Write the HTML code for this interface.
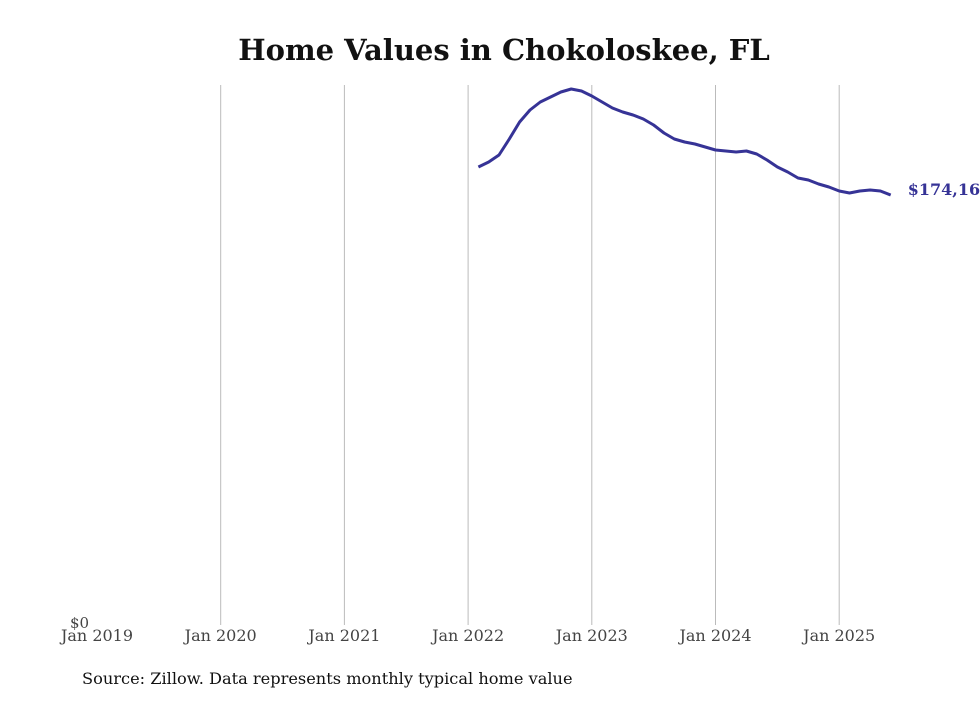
<!DOCTYPE html>
<html><head><meta charset="utf-8"><style>
body{margin:0;background:#fff;width:980px;height:699px;overflow:hidden}
svg{font-family:"DejaVu Serif","Liberation Serif",serif}
</style></head><body>
<svg width="980" height="699">
<text x="504" y="60" text-anchor="middle" font-size="29" font-weight="bold" fill="#111">Home Values in Chokoloskee, FL</text>
<g id="grid"></g>
<g id="ticks"></g>
<text x="70" y="628" font-size="15" fill="#444">$0</text>
<path id="line" fill="none" stroke="#363396" stroke-width="3" stroke-linejoin="round"/>
<text id="endlab" font-size="16" font-weight="bold" fill="#363396"></text>
<text x="82" y="684" font-size="16.2" fill="#111">Source: Zillow. Data represents monthly typical home value</text>
</svg>
<script>
const tickYears=[2019,2020,2021,2022,2023,2024,2025];
const startMonth=[2022,2]; // Feb 2022
const values=[185490,187515,190350,196830,203715,208575,211815,213840,215865,217080,216270,214245,211815,209385,207765,206550,204930,202500,199260,196830,195615,194805,193590,192375,191970,191565,191970,190755,188325,185490,183465,181035,180225,178605,177390,175770,174960,175770,176175,175770,174164];
const endLabel="$174,164";
const x=t=>97+(t-2019)*123.7;
const y=v=>625-v/218700*540;
const ns="http://www.w3.org/2000/svg";
const grid=document.getElementById('grid'),ticks=document.getElementById('ticks');
tickYears.forEach(yr=>{
 if(yr>2019){const l=document.createElementNS(ns,'line');
 
 
 l.setAttribute('x1',x(yr));l.setAttribute('x2',x(yr));l.setAttribute('y1',85);l.setAttribute('y2',625);
 l.setAttribute('stroke','#bbb');l.setAttribute('stroke-width','1');grid.appendChild(l);}
 const t=document.createElementNS(ns,'text');
 
 
 t.setAttribute('x',x(yr));t.setAttribute('y',641);t.setAttribute('text-anchor','middle');
 t.setAttribute('font-size','16');t.setAttribute('fill','#444');t.textContent='Jan '+yr;ticks.appendChild(t);
});
let d='',lx,ly;
values.forEach((v,i)=>{const t=startMonth[0]+(startMonth[1]-1+i)/12;lx=x(t);ly=y(v);d+=(i?'L':'M')+lx.toFixed(1)+','+ly.toFixed(1);});
document.getElementById('line').setAttribute('d',d);
const el=document.getElementById('endlab');el.setAttribute('x',lx+17);el.setAttribute('y',ly);el.textContent=endLabel;
</script>
</body></html>
